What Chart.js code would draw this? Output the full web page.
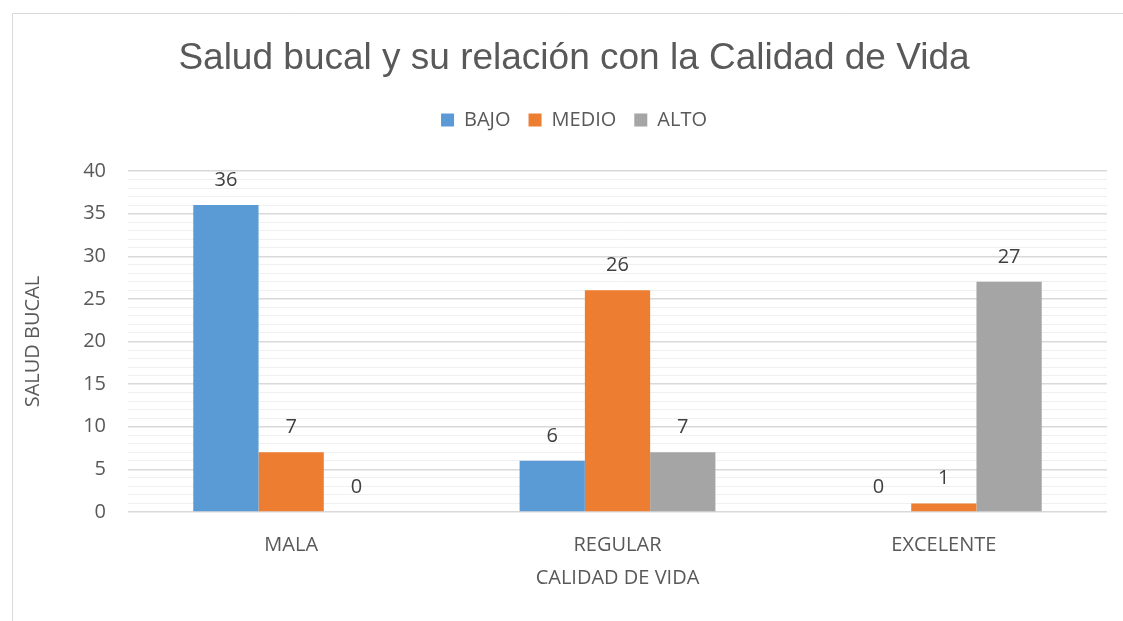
<!DOCTYPE html>
<html>
<head>
<meta charset="utf-8">
<script src="https://cdn.jsdelivr.net/npm/chart.js@4.4.1/dist/chart.umd.min.js"></script>
<style>
html,body{margin:0;padding:0;background:#fff;}
#wrap{width:1123px;height:621px;position:relative;}
</style>
</head>
<body>
<div id="wrap"><canvas id="c" width="1123" height="621"></canvas></div>
<script>
const categories = ["MALA", "REGULAR", "EXCELENTE"];
const seriesNames = ["BAJO", "MEDIO", "ALTO"];
const bajo = [36, 6, 0];
const medio = [7, 26, 1];
const alto = [0, 7, 27];
const seriesColors = ["#5B9BD5", "#ED7D31", "#A5A5A5"];
const titleText = "Salud bucal y su relación con la Calidad de Vida";
const yTitle = "SALUD BUCAL";
const xTitle = "CALIDAD DE VIDA";

const tickFont = {family: "'Open Sans', sans-serif", size: 20};

const frame = {
  id: 'frame',
  beforeDraw(chart) {
    const ctx = chart.ctx;
    ctx.save();
    ctx.strokeStyle = '#d9d9d9';
    ctx.lineWidth = 1;
    ctx.beginPath();
    ctx.moveTo(12.5, 621);
    ctx.lineTo(12.5, 13.5);
    ctx.lineTo(1123, 13.5);
    ctx.stroke();
    ctx.restore();
  },
  beforeLayout(chart) {
    const lg = chart.legend;
    if (lg && !lg._patched) {
      const orig = lg.fit;
      lg.fit = function() { orig.call(this); this.height += 31; };
      lg._patched = true;
    }
  }
};

const valueLabels = {
  id: 'valueLabels',
  afterDatasetsDraw(chart) {
    const ctx = chart.ctx;
    ctx.save();
    ctx.font = "20px 'Open Sans', sans-serif";
    ctx.fillStyle = '#404040';
    ctx.textAlign = 'center';
    ctx.textBaseline = 'middle';
    chart.data.datasets.forEach((ds, i) => {
      const meta = chart.getDatasetMeta(i);
      meta.data.forEach((el, j) => {
        ctx.fillText(String(ds.data[j]), el.x, el.y - 25);
      });
    });
    ctx.restore();
  }
};

new Chart(document.getElementById('c'), {
  type: 'bar',
  data: {
    labels: categories,
    datasets: [
      {label: seriesNames[0], data: bajo, backgroundColor: seriesColors[0]},
      {label: seriesNames[1], data: medio, backgroundColor: seriesColors[1]},
      {label: seriesNames[2], data: alto, backgroundColor: seriesColors[2]}
    ]
  },
  options: {
    responsive: false,
    animation: false,
    devicePixelRatio: 1,
    categoryPercentage: 0.6,
    barPercentage: 1.0,
    layout: {padding: {top: 0, left: 41, right: 16, bottom: 0}},
    plugins: {
      title: {
        display: true,
        text: titleText,
        color: '#595959',
        font: {family: "'Liberation Sans', Arial, sans-serif", size: 37, weight: 'normal'},
        padding: {top: 37, bottom: 10.6}
      },
      legend: {
        display: true,
        position: 'top',
        labels: {
          color: '#595959',
          font: {family: "'Open Sans', sans-serif", size: 20},
          boxWidth: 13,
          boxHeight: 13,
          padding: 18
        }
      },
      tooltip: {enabled: false}
    },
    scales: {
      x: {
        afterFit(scale) { scale.height = 109; },
        grid: {display: false},
        border: {display: false},
        ticks: {color: '#595959', font: tickFont, padding: 13},
        title: {display: true, text: xTitle, color: '#595959', font: tickFont, padding: {top: 0, bottom: 31}}
      },
      y: {
        min: 0,
        max: 40,
        afterFit(scale) { scale.width = 87; },
        border: {display: false},
        grid: {
          drawTicks: false,
          color: (c) => (c.tick && c.tick.value % 5 === 0) ? '#d9d9d9' : '#f0f0f0',
          lineWidth: (c) => (c.tick && c.tick.value % 5 === 0) ? 1.5 : 1
        },
        ticks: {
          stepSize: 1,
          autoSkip: false,
          maxTicksLimit: 100,
          padding: 22,
          color: '#595959',
          font: tickFont,
          callback: (v) => (v % 5 === 0 ? String(v) : '')
        },
        title: {display: true, text: yTitle, color: '#595959', font: tickFont, padding: {top: -20, bottom: 0}}
      }
    }
  },
  plugins: [frame, valueLabels]
});
</script>
</body>
</html>
